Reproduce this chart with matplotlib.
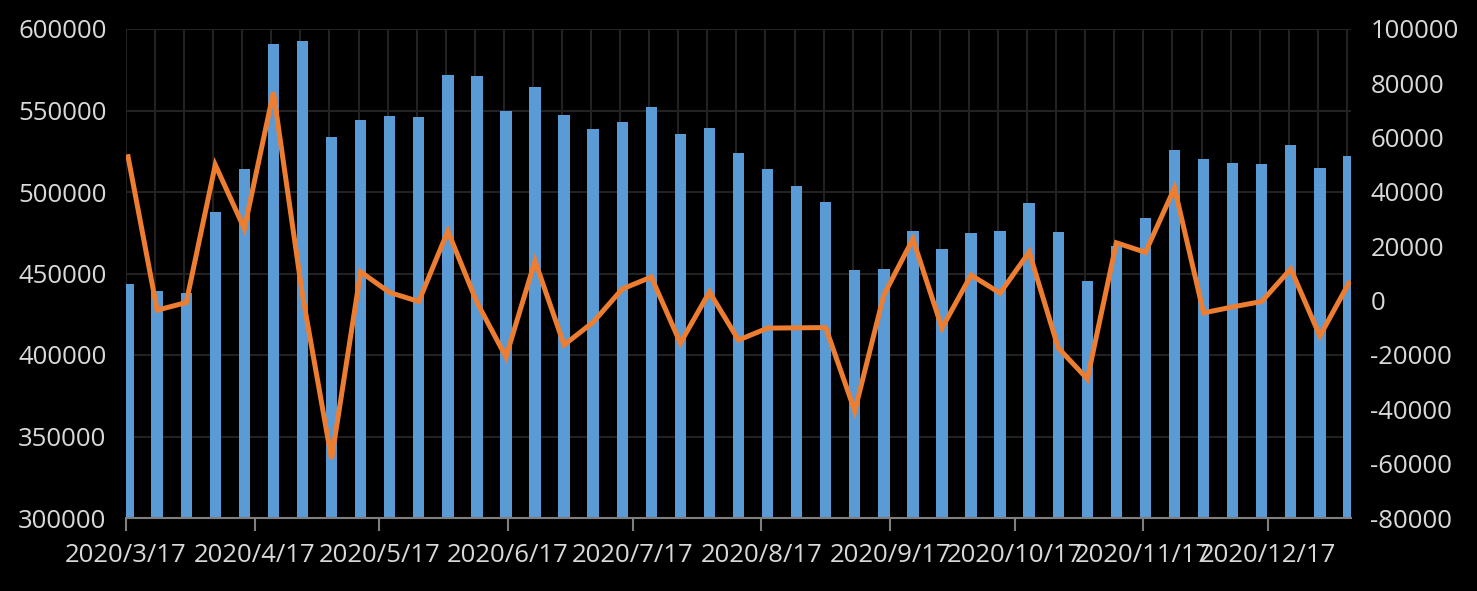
import matplotlib
matplotlib.use("Agg")
import matplotlib.pyplot as plt
import matplotlib.dates as mdates
import pandas as pd
import numpy as np

# weekly dates (first bar 2020/3/17)
dates = pd.date_range("2020-03-17", periods=43, freq="7D")

# weekly totals (left axis)
totals = [443600, 439300, 438000, 487700, 514100, 591000, 592600, 533700,
          544200, 546600, 546000, 571800, 571200, 549700, 564400, 547200,
          538700, 542900, 552100, 535600, 539300, 523900, 514100, 503700,
          493900, 452100, 452800, 476100, 465000, 474800, 476100, 493300,
          475500, 445400, 466900, 484000, 525800, 520200, 517800, 517200,
          528800, 514500, 522100]

# week-on-week change (right axis)
change = [53000, -3500, -700, 50000, 26500, 76700, 2000, -58300,
          10600, 3000, -300, 25600, -600, -20700, 14600, -16300,
          -7900, 4300, 8700, -15600, 3200, -14500, -10100, -10000,
          -9900, -40600, 2100, 22700, -10100, 9400, 2800, 17900,
          -17400, -28800, 21300, 17800, 41500, -4500, -2300, -300,
          11700, -13000, 6500]

left_ticks = [300000, 350000, 400000, 450000, 500000, 550000, 600000]
right_ticks = list(range(-80000, 100001, 20000))
month_ticks = pd.date_range("2020-03-01", "2020-12-01", freq="MS") + pd.Timedelta(days=16)

bg = "black"
txt = "#d9d9d9"
grid_c = "#222222"

plt.rcParams["font.family"] = ["Open Sans", "DejaVu Sans"]
plt.rcParams["axes.unicode_minus"] = False

fig = plt.figure(figsize=(14.77, 5.91), dpi=100, facecolor=bg)
ax = fig.add_axes([126 / 1477, 73 / 591, 1225 / 1477, 489 / 591])
ax.set_facecolor(bg)

# bars sit in the middle of their day slot, as Excel does on a date axis
x_bar = mdates.date2num(dates) + 0.5
ax.bar(x_bar, [t - 300000 for t in totals], bottom=300000, width=2.75,
       color="#5b9bd5", zorder=2)

ax.set_ylim(300000, 600000)
ax.set_yticks(left_ticks)
ax.set_xlim(mdates.date2num(dates[0]), mdates.date2num(dates[-1]) + 1)

# weekly vertical gridlines + horizontal gridlines
for d in mdates.date2num(dates):
    ax.axvline(d, color=grid_c, lw=1.5, zorder=0)
ax.grid(axis="y", color=grid_c, lw=1.5, zorder=0)
ax.set_axisbelow(True)

ax.set_xticks(mdates.date2num(month_ticks))
ax.set_xticklabels([f"{d.year}/{d.month}/{d.day}" for d in month_ticks])

for s in ["top", "right", "left"]:
    ax.spines[s].set_visible(False)
ax.spines["bottom"].set_color("#7f7f7f")
ax.spines["bottom"].set_linewidth(1.5)
ax.tick_params(axis="x", colors="#7f7f7f", length=9, width=1.5, pad=9,
               labelcolor=txt, labelsize=18.5)
ax.tick_params(axis="y", length=0, pad=14, labelcolor=txt, labelsize=18.5)

ax2 = ax.twinx()
ax2.plot(x_bar, change, color="#ed7d31", lw=3.6, solid_joinstyle="miter",
         zorder=3)
ax2.set_ylim(-80000, 100000)
ax2.set_yticks(right_ticks)
for s in ax2.spines.values():
    s.set_visible(False)
ax2.tick_params(axis="y", length=0, pad=14, labelcolor=txt, labelsize=18.5)

fig.savefig("out.png", dpi=100, facecolor=bg)
